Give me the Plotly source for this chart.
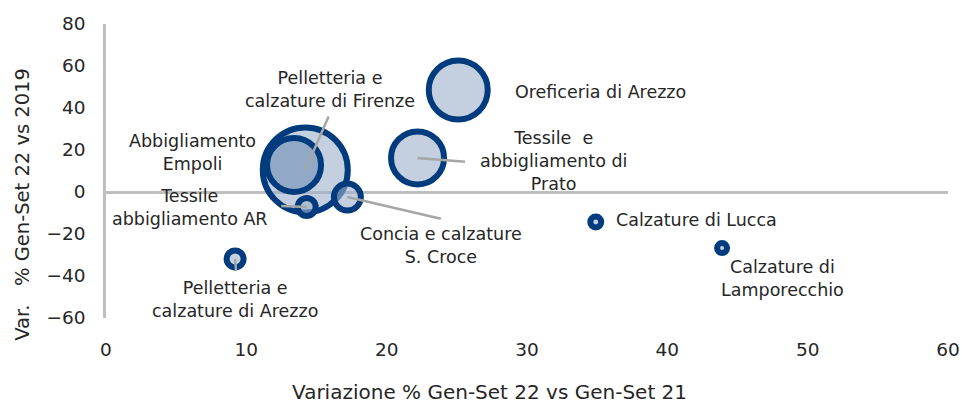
import plotly.graph_objects as go

# distretti: variazione % Gen-Set 22 vs Gen-Set 21 (x) e vs 2019 (y)
names = [
    "Pelletteria e<br>calzature di Firenze",
    "Oreficeria di Arezzo",
    "Tessile&nbsp; e<br>abbigliamento di<br>Prato",
    "Abbigliamento<br>Empoli",
    "Concia e calzature<br>S. Croce",
    "Tessile<br>abbigliamento AR",
    "Pelletteria e<br>calzature di Arezzo",
    "Calzature di Lucca",
    "Calzature di<br>Lamporecchio",
]
var_21 = [14.2, 25.1, 22.2, 13.4, 17.2, 14.3, 9.2, 34.9, 43.9]
var_19 = [10.5, 48.6, 16.2, 12.9, -2.4, -7.1, -31.9, -14.3, -26.7]
peso = [1806, 870, 702, 729, 182, 81, 72, 30, 25]

# posizione delle etichette (layout)
lab_x = [15.96, 29.0, 31.9, 6.13, 23.87, 5.99, 9.19, 36.2, 48.24]
lab_y = [49.0, 47.6, 14.8, 19.0, -25.7, -7.6, -51.4, -13.3, -41.4]
lab_anchor = ["center", "left", "center", "center", "center", "center", "center", "left", "center"]
# linee guida (offset in pixel dal centro della bolla)
leader = {0: (24, -55), 2: (49, 4), 4: (95, 22), 5: (-27, -1), 6: (1, 13)}

fills = ["rgba(157,177,202,0.6)"] * len(names)
fills[3] = "rgb(145,169,198)"

fig = go.Figure()
fig.add_trace(go.Scatter(
    x=var_21, y=var_19, mode="markers",
    marker=dict(size=peso, sizemode="area", sizeref=0.5, color=fills, opacity=1,
                line=dict(color="#003c7d", width=6)),
    hoverinfo="skip", showlegend=False,
))

font = "DejaVu Sans"
for i, name in enumerate(names):
    fig.add_annotation(x=lab_x[i], y=lab_y[i], text=name, showarrow=False,
                       xanchor=lab_anchor[i], yanchor="middle", align="center",
                       font=dict(family=font, size=17.5, color="#262626"))
for i, (ax, ay) in leader.items():
    fig.add_annotation(x=var_21[i], y=var_19[i], text="", showarrow=True,
                       ax=ax, ay=ay, arrowhead=0, arrowwidth=2.5,
                       arrowcolor="#a6a6a6", standoff=0, startstandoff=0)

fig.add_annotation(text="Variazione % Gen-Set 22 vs Gen-Set 21", xref="paper", yref="paper",
                   x=0.456, y=0, yshift=-74, showarrow=False, xanchor="center",
                   yanchor="middle", font=dict(family=font, size=20, color="#262626"))
fig.add_annotation(text="Var.&nbsp;&nbsp; % Gen-Set 22 vs 2019", xref="paper", yref="paper",
                   x=-0.1, y=0.442, yshift=-16, textangle=-90, showarrow=False,
                   xanchor="center", yanchor="middle",
                   font=dict(family=font, size=19.5, color="#262626"))

fig.update_xaxes(range=[0, 60], dtick=10, showgrid=False, zeroline=False,
                 showline=False, ticks="", ticklabelstandoff=18, automargin=False,
                 tickfont=dict(family=font, size=18.5, color="#262626"))
fig.update_yaxes(range=[-60, 80], dtick=20, showgrid=False, zeroline=True,
                 zerolinecolor="#bfbfbf", zerolinewidth=2.5,
                 showline=True, linecolor="#bfbfbf", linewidth=2.5,
                 ticks="", ticklabelstandoff=14, automargin=False,
                 tickfont=dict(family=font, size=18.5, color="#262626"))

fig.update_layout(width=962, height=403, plot_bgcolor="white", paper_bgcolor="white",
                  margin=dict(l=106, r=14, t=24, b=85))

fig.write_html(
    "out.html",
    config={"displayModeBar": False},
    post_script="document.body.style.margin='0';",
)
